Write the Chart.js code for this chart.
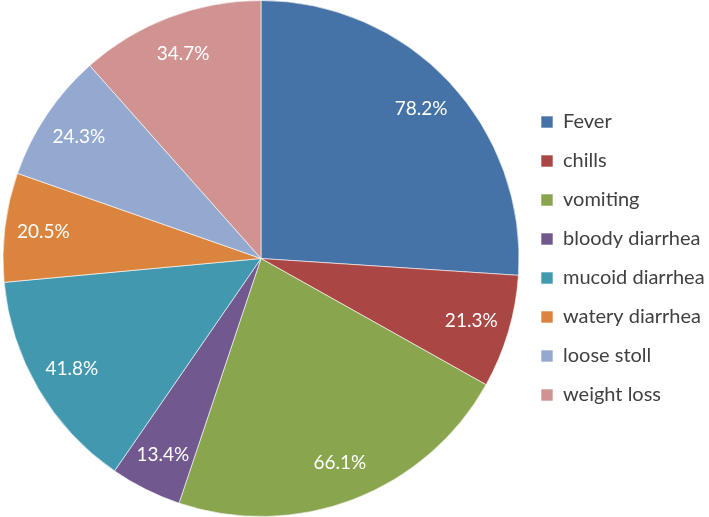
<!DOCTYPE html>
<html>
<head>
<meta charset="utf-8">
<script src="https://cdn.jsdelivr.net/npm/chart.js@4"></script>
<style>
  html, body { margin: 0; padding: 0; background: #fff; }
  canvas { display: block; }
</style>
</head>
<body>
<canvas id="chart" width="709" height="517"></canvas>
<script>
const symptoms = ['Fever', 'chills', 'vomiting', 'bloody diarrhea', 'mucoid diarrhea', 'watery diarrhea', 'loose stoll', 'weight loss'];
const percents = [78.2, 21.3, 66.1, 13.4, 41.8, 20.5, 24.3, 34.7];
const sliceColors = ['#4572A7', '#AA4643', '#89A54E', '#71588F', '#4198AF', '#DB843D', '#93A9CF', '#D19392'];

// white percentage labels inside each slice, near the rim
const sliceLabels = {
    id: 'sliceLabels',
    afterDatasetsDraw(chart) {
        const ctx = chart.ctx;
        const meta = chart.getDatasetMeta(0);
        ctx.save();
        ctx.font = '19px Lato, "Open Sans", sans-serif';
        ctx.fillStyle = '#ffffff';
        ctx.textAlign = 'center';
        ctx.textBaseline = 'middle';
        meta.data.forEach((arc, i) => {
            const mid = (arc.startAngle + arc.endAngle) / 2;
            const r = arc.outerRadius * 0.85;
            ctx.fillText(percents[i].toFixed(1) + '%', arc.x + Math.cos(mid) * r, arc.y + Math.sin(mid) * r);
        });
        ctx.restore();
    }
};

new Chart(document.getElementById('chart').getContext('2d'), {
    type: 'pie',
    data: {
        labels: symptoms,
        datasets: [{
            data: percents,
            backgroundColor: sliceColors,
            borderColor: 'rgba(255,255,255,0.6)',
            borderWidth: 1
        }]
    },
    options: {
        responsive: false,
        animation: false,
        layout: { padding: 0 },
        plugins: {
            tooltip: { enabled: false },
            legend: {
                position: 'right',
                align: 'center',
                maxWidth: 187,
                labels: {
                    boxWidth: 12,
                    boxHeight: 12,
                    padding: 19,
                    color: '#404040',
                    font: { size: 20, family: 'Lato, "Open Sans", sans-serif' }
                }
            }
        }
    },
    plugins: [sliceLabels]
});
</script>
</body>
</html>
